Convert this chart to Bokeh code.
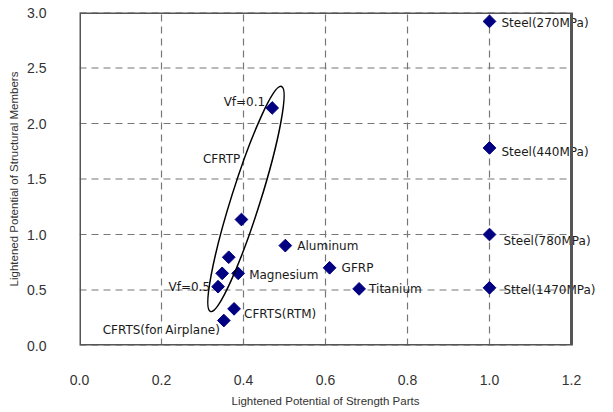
import math
from bokeh.plotting import figure
from bokeh.models import (ColumnDataSource, NumeralTickFormatter, LabelSet, Label,
                          BoxAnnotation, Title)
from bokeh.core.properties import value
from bokeh.embed import file_html
from bokeh.resources import INLINE

# ---- data ----
materials = ["Steel(270MPa)", "Steel(440MPa)", "Steel(780MPa)", "Sttel(1470MPa)",
             "Vf=0.1", "", "", "", "Vf=0.5",
             "Magnesium", "Aluminum", "GFRP", "Titanium",
             "CFRTS(RTM)", "CFRTS(for Airplane)"]
strength_parts = [1.0, 1.0, 1.0, 1.0,
                  0.470, 0.395, 0.364, 0.348, 0.338,
                  0.387, 0.502, 0.610, 0.682,
                  0.377, 0.352]
structural_members = [2.92, 1.78, 1.00, 0.52,
                      2.14, 1.135, 0.795, 0.65, 0.53,
                      0.65, 0.90, 0.70, 0.51,
                      0.33, 0.225]

x_ticks = [0.0, 0.2, 0.4, 0.6, 0.8, 1.0, 1.2]
y_ticks = [0.0, 0.5, 1.0, 1.5, 2.0, 2.5, 3.0]

x_title = "Lightened Potential of Strength Parts"
y_title = "Lightened Potential of Structural Members"

# group annotation (CFRTP ellipse)
group_name = "CFRTP"
group_center = (0.406, 1.32)
group_label_pos = (0.392, 1.68)

# ---- label layout (screen offsets, positive = up; alignment) ----
label_dx = [12, 12, 14, 14, -7, 0, 0, 0, -8, 11, 12, 12, 10, 10, -4]
label_dy = [-2, -4, -6, -2, 6, 0, 0, 0, 0, -2, 0, 0, 0, -5, -9]
label_align = ["left", "left", "left", "left", "right", "left", "left", "left", "right",
               "left", "left", "left", "left", "left", "right"]

FONT = "DejaVu Sans"
LABEL_SIZE = "12px"
PX_PER_UNIT = 410            # horizontal scale of the plot box
FRAME_W = 532                # frame extends right of the box so labels are not clipped
x_end = FRAME_W / PX_PER_UNIT
X_TITLE_OFFSET = 152         # left offset of the x title so it is centred under the box

src = ColumnDataSource(dict(x=strength_parts, y=structural_members))

p = figure(frame_width=FRAME_W, frame_height=333,
           x_range=(0, x_end), y_range=(0, 3.0),
           output_backend="svg", toolbar_location=None,
           min_border_left=79, min_border_top=12, min_border_right=2, min_border_bottom=4)
p.background_fill_color = "white"
p.border_fill_color = "white"
p.outline_line_color = None

for ax in (p.xaxis[0], p.yaxis[0]):
    ax.axis_line_color = None
    ax.major_tick_line_color = None
    ax.minor_tick_line_color = None
    ax.major_label_text_font = "Liberation Sans"
    ax.major_label_text_font_size = "14px"
    ax.major_label_text_color = "#333333"
    ax.axis_label_text_font = "Liberation Sans"
    ax.axis_label_text_font_size = "11.5px"
    ax.axis_label_text_font_style = "normal"
    ax.axis_label_text_color = "#333333"
    ax.formatter = NumeralTickFormatter(format="0.0")

p.xaxis.ticker = x_ticks
p.yaxis.ticker = y_ticks
p.xaxis.major_label_standoff = 23
p.yaxis.major_label_standoff = 27
p.yaxis.axis_label_standoff = 4
p.yaxis.axis_label = y_title

p.add_layout(Title(text=x_title, align="left", offset=X_TITLE_OFFSET, standoff=11,
                   text_font="Liberation Sans", text_font_size="11.5px",
                   text_font_style="normal", text_color="#333333"), "below")

GRID_COLOR = "#777777"
GRID_DASH = "7 5"
p.xgrid.ticker = x_ticks
p.xgrid.grid_line_color = GRID_COLOR
p.xgrid.grid_line_dash = GRID_DASH
p.xgrid.grid_line_width = 1.2
p.ygrid.visible = False
# horizontal grid lines limited to the plot box
p.segment(x0=[x_ticks[0]] * len(y_ticks), x1=[x_ticks[-1]] * len(y_ticks),
          y0=y_ticks, y1=y_ticks, line_color=GRID_COLOR, line_dash=GRID_DASH,
          line_width=1.2)
# white cover for the grid beyond the plot box
p.add_layout(BoxAnnotation(left=x_ticks[-1], fill_color="white", fill_alpha=1.0,
                           line_color=None, level="underlay"))
# plot box outline
p.add_layout(BoxAnnotation(left=x_ticks[0], right=x_ticks[-1], bottom=y_ticks[0], top=y_ticks[-1],
                           fill_alpha=0, line_color="#555555", line_alpha=1.0,
                           line_width=3, level="overlay"))

p.scatter("x", "y", source=src, marker="square", angle=math.pi / 4, size=9,
          fill_color="#000080", line_color="#000080")

for align in ("left", "right"):
    idx = [i for i, a in enumerate(label_align) if a == align and materials[i]]
    lsrc = ColumnDataSource(dict(
        x=[strength_parts[i] for i in idx],
        y=[structural_members[i] for i in idx],
        name=[materials[i] for i in idx],
        dx=[label_dx[i] for i in idx],
        dy=[label_dy[i] for i in idx]))
    p.add_layout(LabelSet(x="x", y="y", text="name", source=lsrc,
                          x_offset="dx", y_offset="dy",
                          text_align=value(align), text_baseline=value("middle"),
                          text_font=value(FONT), text_font_size=value(LABEL_SIZE),
                          text_color=value("#1a1a1a")))

p.ellipse(x=[group_center[0]], y=[group_center[1]], width=236, height=29,
          width_units="screen", height_units="screen", angle=72.5, angle_units="deg",
          fill_color=None, line_color="black", line_width=1.5)

p.add_layout(Label(x=group_label_pos[0], y=group_label_pos[1], text=group_name,
                   text_align="right", text_baseline="middle",
                   text_font=FONT, text_font_size=LABEL_SIZE, text_color="#1a1a1a"))

open("out.html", "w").write(file_html(p, INLINE))
